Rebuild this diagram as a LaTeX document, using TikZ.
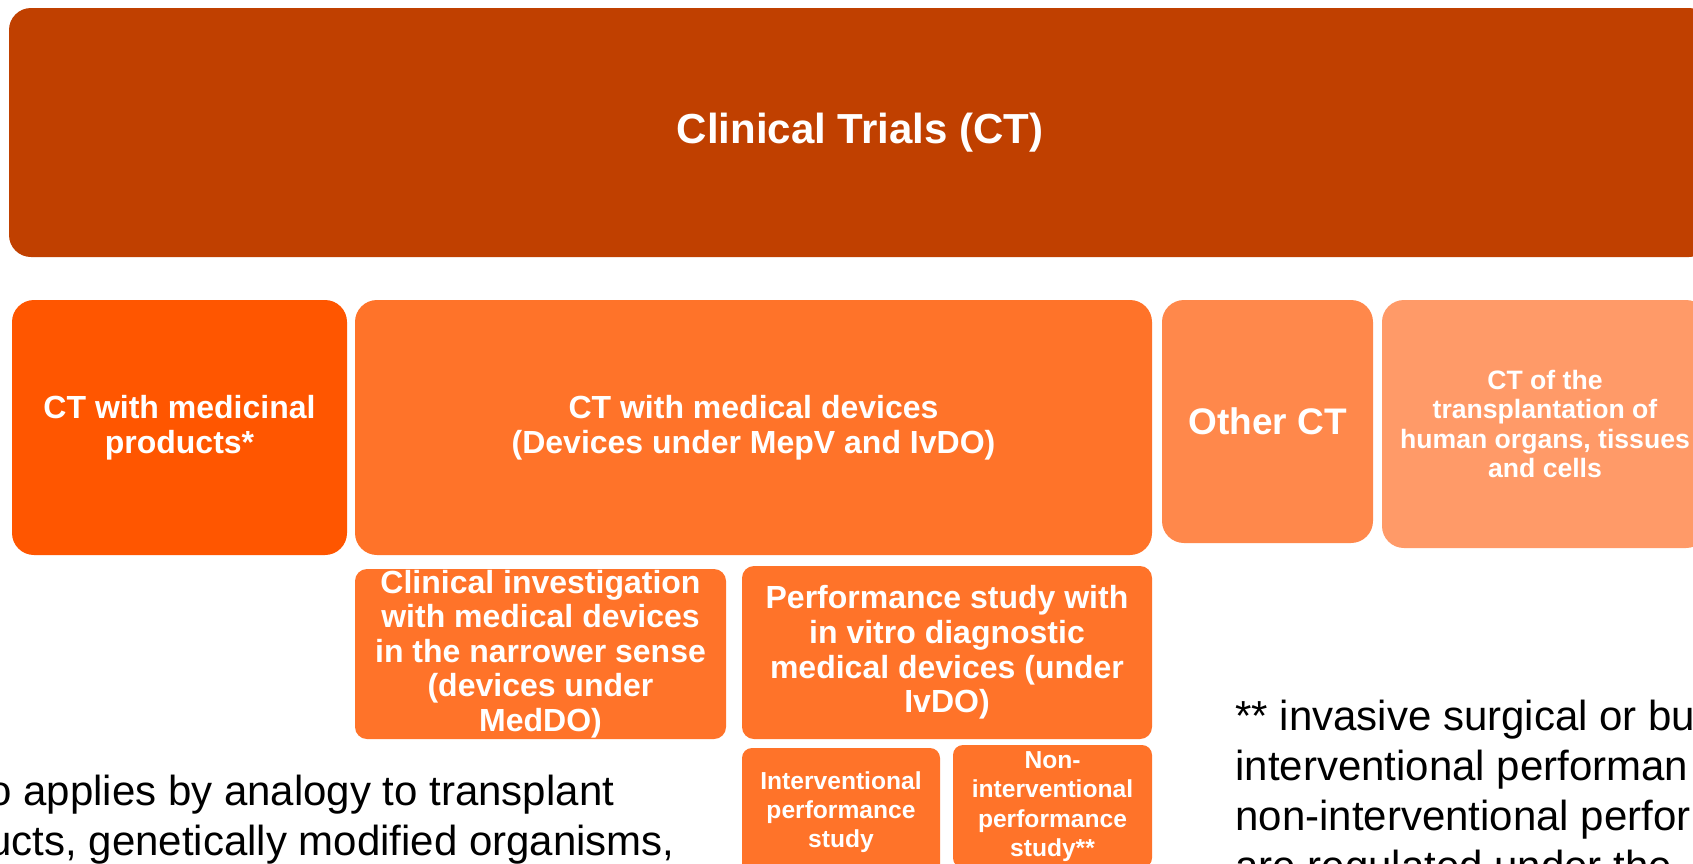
\documentclass[tikz,border=0pt]{standalone}
\usepackage{fontspec}
\setmainfont{Liberation Sans}
\usepackage{xcolor}

\definecolor{ctdark}{RGB}{192,64,0}
\definecolor{medorange}{RGB}{255,86,0}
\definecolor{devorange}{RGB}{255,115,41}
\definecolor{otherorange}{RGB}{255,136,75}
\definecolor{transorange}{RGB}{255,154,104}

\tikzset{
  ctbox/.style={rectangle,rounded corners=11pt,text=white,align=center,inner sep=0pt},
  subbox/.style={ctbox,rounded corners=6pt,fill=devorange},
  footnote/.style={align=left,inner sep=0pt,anchor=base west,font=\fontsize{21}{25}\selectfont}
}

\begin{document}
\begin{tikzpicture}[x=0.5pt,y=-0.5pt]
        \useasboundingbox (0,0) rectangle (1693,863);
        \fill[white] (0,0) rectangle (1693,863);
        \clip (0,0) rectangle (1693,863);
        % top level
        \node[ctbox,fill=ctdark,minimum width=851pt,minimum height=124.5pt,font=\fontsize{21}{25}\selectfont\bfseries] (ct) at (860,132.5) {Clinical Trials (CT)};
        % second row
        \node[ctbox,fill=medorange,minimum width=167.5pt,minimum height=127.5pt,font=\fontsize{16}{17.3}\selectfont\bfseries] (medicinal) at (179.5,427.5) {CT with medicinal\\products*};
        \node[ctbox,fill=devorange,minimum width=398.5pt,minimum height=127.5pt,font=\fontsize{16}{17.3}\selectfont\bfseries] (devices) at (753.5,427.5) {CT with medical devices\\(Devices under MepV and IvDO)};
        \node[ctbox,fill=otherorange,minimum width=105.5pt,minimum height=121.5pt,font=\fontsize{18.5}{20}\selectfont\bfseries] (otherct) at (1267.5,421.5) {Other CT};
        \node[ctbox,fill=transorange,minimum width=163pt,minimum height=124pt,font=\fontsize{13.3}{14.6}\selectfont\bfseries] (transplant) at (1545,424) {CT of the\\transplantation of\\human organs, tissues\\and cells};
        % devices split
        \node[subbox,minimum width=185.5pt,minimum height=85pt,font=\fontsize{16}{17.3}\selectfont\bfseries] (clininv) at (540.5,654) {Clinical investigation\\with medical devices\\in the narrower sense\\(devices under\\MedDO)};
        \node[subbox,minimum width=205pt,minimum height=86.5pt,font=\fontsize{16}{17.3}\selectfont\bfseries] (perfstudy) at (947,652.5) {Performance study with\\in vitro diagnostic\\medical devices (under\\IvDO)};
        \node[subbox,rounded corners=5pt,minimum width=99pt,minimum height=64pt,font=\fontsize{12.3}{14.6}\selectfont\bfseries] (interv) at (841,812) {Interventional\\performance\\study};
        \node[subbox,rounded corners=5pt,minimum width=99.5pt,minimum height=61.5pt,font=\fontsize{12.3}{14.6}\selectfont\bfseries] (noninterv) at (1052.5,806.5) {Non-\\interventional\\performance\\study**};
        % footnotes (base is the last line)
        \node[footnote] (footleft) at (-12,855) {o applies by analogy to transplant\\ucts, genetically modified organisms,};
        \node[footnote] (footright) at (1235,880) {** invasive surgical or bu\\interventional performan\\non-interventional perfor\\are regulated under the};
    \end{tikzpicture}
\end{document}
